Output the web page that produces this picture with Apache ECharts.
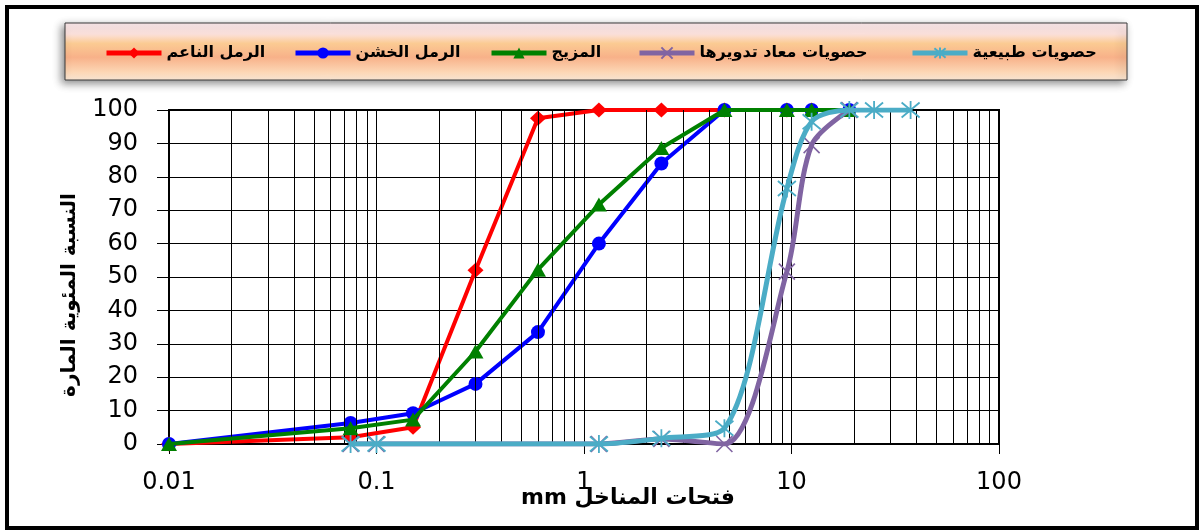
<!DOCTYPE html>
<html>
<head>
<meta charset="utf-8">
<script src="https://cdn.jsdelivr.net/npm/echarts@6/dist/echarts.min.js"></script>
<style>
  html, body { margin: 0; padding: 0; background: #fff; }
  #chart { width: 1200px; height: 531px; }
</style>
</head>
<body>
<div id="chart"></div>
<script>
// Sieve openings (mm) and cumulative percent passing for each material
const sieveFine = [0.01, 0.075, 0.15, 0.3, 0.6, 1.18, 2.36, 4.75, 9.5, 12.5];
const fineSand = [0, 2, 5, 52, 97.5, 100, 100, 100, 100, 100];

const sieveSand = [0.01, 0.075, 0.15, 0.3, 0.6, 1.18, 2.36, 4.75, 9.5, 12.5, 19];
const coarseSand = [0, 6.3, 9.2, 18, 33.5, 60, 84, 100, 100, 100, 100];
const mixSand = [0, 4.7, 7.3, 27.7, 52.2, 71.7, 88.6, 100, 100, 100, 100];

const sieveRecycled = [0.075, 0.1, 1.18, 2.36, 4.75, 9.5, 12.5, 19];
const recycledGravel = [0, 0, 0, 1.5, 0, 51.6, 89.5, 100];

const sieveNatural = [0.075, 0.1, 1.18, 2.36, 4.75, 9.5, 12.5, 19, 25, 37.5];
const naturalGravel = [0, 0, 0, 1.7, 4.7, 76.5, 96.5, 100, 100, 100];

// Axis ticks
const xDecades = [0.01, 0.1, 1, 10];
const xMinorSteps = [2, 3, 4, 5, 6, 7, 8, 9];

const NAMES = {
  fine: 'الرمل الناعم',
  coarse: 'الرمل الخشن',
  mix: 'المزيج',
  recycled: 'حصويات معاد تدويرها',
  natural: 'حصويات طبيعية'
};
const COLORS = {
  fine: '#FF0000',
  coarse: '#0000FF',
  mix: '#008000',
  recycled: '#8064A2',
  natural: '#4BACC6'
};

const pair = (xs, ys) => ys.map((y, i) => [xs[i], y]);

// Log-scale minor grid positions (2..9 within each decade)
const minorGrid = [];
xDecades.forEach(d => xMinorSteps.forEach(m => minorGrid.push(+(d * m).toPrecision(3))));

const STAR = 'path://M0,0L10,10M10,0L0,10M5,-1L5,11';
const CROSS = 'path://M0,0L10,10M10,0L0,10';
const AR_FONT = '"DejaVu Sans", sans-serif';

const chart = echarts.init(document.getElementById('chart'), null, { renderer: 'canvas' });

function legendAt(name, left) {
  return {
    data: [name],
    left: left,
    top: 45,
    itemWidth: 55,
    itemHeight: 14,
    itemGap: 0,
    padding: 0,
    selectedMode: false,
    lineStyle: { width: 5 },
    textStyle: { fontFamily: AR_FONT, fontWeight: 'bold', fontSize: 16, color: '#000' }
  };
}

const option = {
  animation: false,
  backgroundColor: '#fff',
  grid: {
    left: 169, right: 201, top: 110, bottom: 87,
    show: true, borderColor: '#000', borderWidth: 2, backgroundColor: 'transparent'
  },
  legend: [
    legendAt(NAMES.fine, 104),
    legendAt(NAMES.coarse, 293),
    legendAt(NAMES.mix, 489),
    legendAt(NAMES.recycled, 637),
    legendAt(NAMES.natural, 910)
  ],
  xAxis: {
    type: 'log',
    logBase: 10,
    min: 0.01,
    max: 100,
    axisLine: { show: true, lineStyle: { color: '#000', width: 2 } },
    axisTick: { show: true, length: 10, lineStyle: { color: '#000', width: 1 } },
    axisLabel: {
      fontFamily: AR_FONT, fontSize: 24, color: '#000', margin: 27,
      formatter: v => String(+v.toPrecision(3))
    },
    splitLine: { show: true, lineStyle: { color: '#000', width: 1 } },
    minorTick: { show: false },
    minorSplitLine: { show: false }
  },
  yAxis: {
    type: 'value',
    min: 0,
    max: 100,
    interval: 10,
    axisLine: { show: true, lineStyle: { color: '#000', width: 2 } },
    axisTick: { show: true, length: 12, lineStyle: { color: '#000', width: 1 } },
    axisLabel: { fontFamily: AR_FONT, fontSize: 24, color: '#000', margin: 31 },
    splitLine: { show: true, lineStyle: { color: '#000', width: 1 } }
  },
  graphic: [
    {
      type: 'rect', z: -10, silent: true,
      shape: { x: 65, y: 23, width: 1062, height: 57 },
      style: {
        fill: new echarts.graphic.LinearGradient(0, 0, 0, 1, [
          { offset: 0, color: '#FDEBEE' },
          { offset: 0.2, color: '#FCE1DC' },
          { offset: 0.36, color: '#FBCB93' },
          { offset: 0.6, color: '#F8B189' },
          { offset: 0.85, color: '#FCD6B4' },
          { offset: 1, color: '#FEEBD9' }
        ]),
        stroke: '#3a3a3a', lineWidth: 1,
        shadowBlur: 8, shadowColor: 'rgba(0,0,0,0.45)', shadowOffsetX: -3, shadowOffsetY: 3
      }
    },
    {
      type: 'text', silent: true, z: 10,
      x: 70, y: 295, rotation: Math.PI / 2,
      style: {
        text: 'النسبة المئوية المارة',
        fontFamily: AR_FONT, fontWeight: 'bold', fontSize: 20, fill: '#000',
        align: 'center', verticalAlign: 'middle'
      }
    },
    {
      type: 'text', silent: true, z: 10,
      x: 628, y: 498,
      style: {
        text: 'mm فتحات المناخل',
        fontFamily: AR_FONT, fontWeight: 'bold', fontSize: 22, fill: '#000',
        align: 'center', verticalAlign: 'middle'
      }
    },
    {
      type: 'rect', silent: true, z: 100,
      shape: { x: 7, y: 7, width: 1190, height: 521 },
      style: { fill: 'none', stroke: '#000', lineWidth: 4 }
    }
  ],
  series: [
    {
      // minor vertical grid lines of the log axis
      type: 'line',
      name: 'grid',
      data: [],
      silent: true,
      z: 1,
      markLine: {
        silent: true,
        symbol: ['none', 'none'],
        label: { show: false },
        emphasis: { disabled: true },
        lineStyle: { color: '#000', width: 1, type: 'solid' },
        data: minorGrid.map(v => ({ xAxis: v }))
      }
    },
    {
      name: NAMES.fine, type: 'line', z: 3,
      data: pair(sieveFine, fineSand),
      symbol: 'diamond', symbolSize: [16, 15],
      lineStyle: { color: COLORS.fine, width: 4 },
      itemStyle: { color: COLORS.fine }
    },
    {
      name: NAMES.coarse, type: 'line', z: 4,
      data: pair(sieveSand, coarseSand),
      symbol: 'circle', symbolSize: 14,
      lineStyle: { color: COLORS.coarse, width: 4 },
      itemStyle: { color: COLORS.coarse }
    },
    {
      name: NAMES.mix, type: 'line', z: 5,
      data: pair(sieveSand, mixSand),
      symbol: 'triangle', symbolSize: [16, 14],
      lineStyle: { color: COLORS.mix, width: 4 },
      itemStyle: { color: COLORS.mix }
    },
    {
      name: NAMES.recycled, type: 'line', z: 6,
      data: pair(sieveRecycled, recycledGravel),
      smooth: 0.3,
      symbol: CROSS, symbolSize: 16,
      lineStyle: { color: COLORS.recycled, width: 5 },
      itemStyle: { color: COLORS.recycled, borderColor: COLORS.recycled, borderWidth: 1.6 }
    },
    {
      name: NAMES.natural, type: 'line', z: 7,
      data: pair(sieveNatural, naturalGravel),
      smooth: 0.3,
      symbol: STAR, symbolSize: 18,
      lineStyle: { color: COLORS.natural, width: 5 },
      itemStyle: { color: COLORS.natural, borderColor: COLORS.natural, borderWidth: 1.8 }
    }
  ]
};

chart.setOption(option);
</script>
</body>
</html>
